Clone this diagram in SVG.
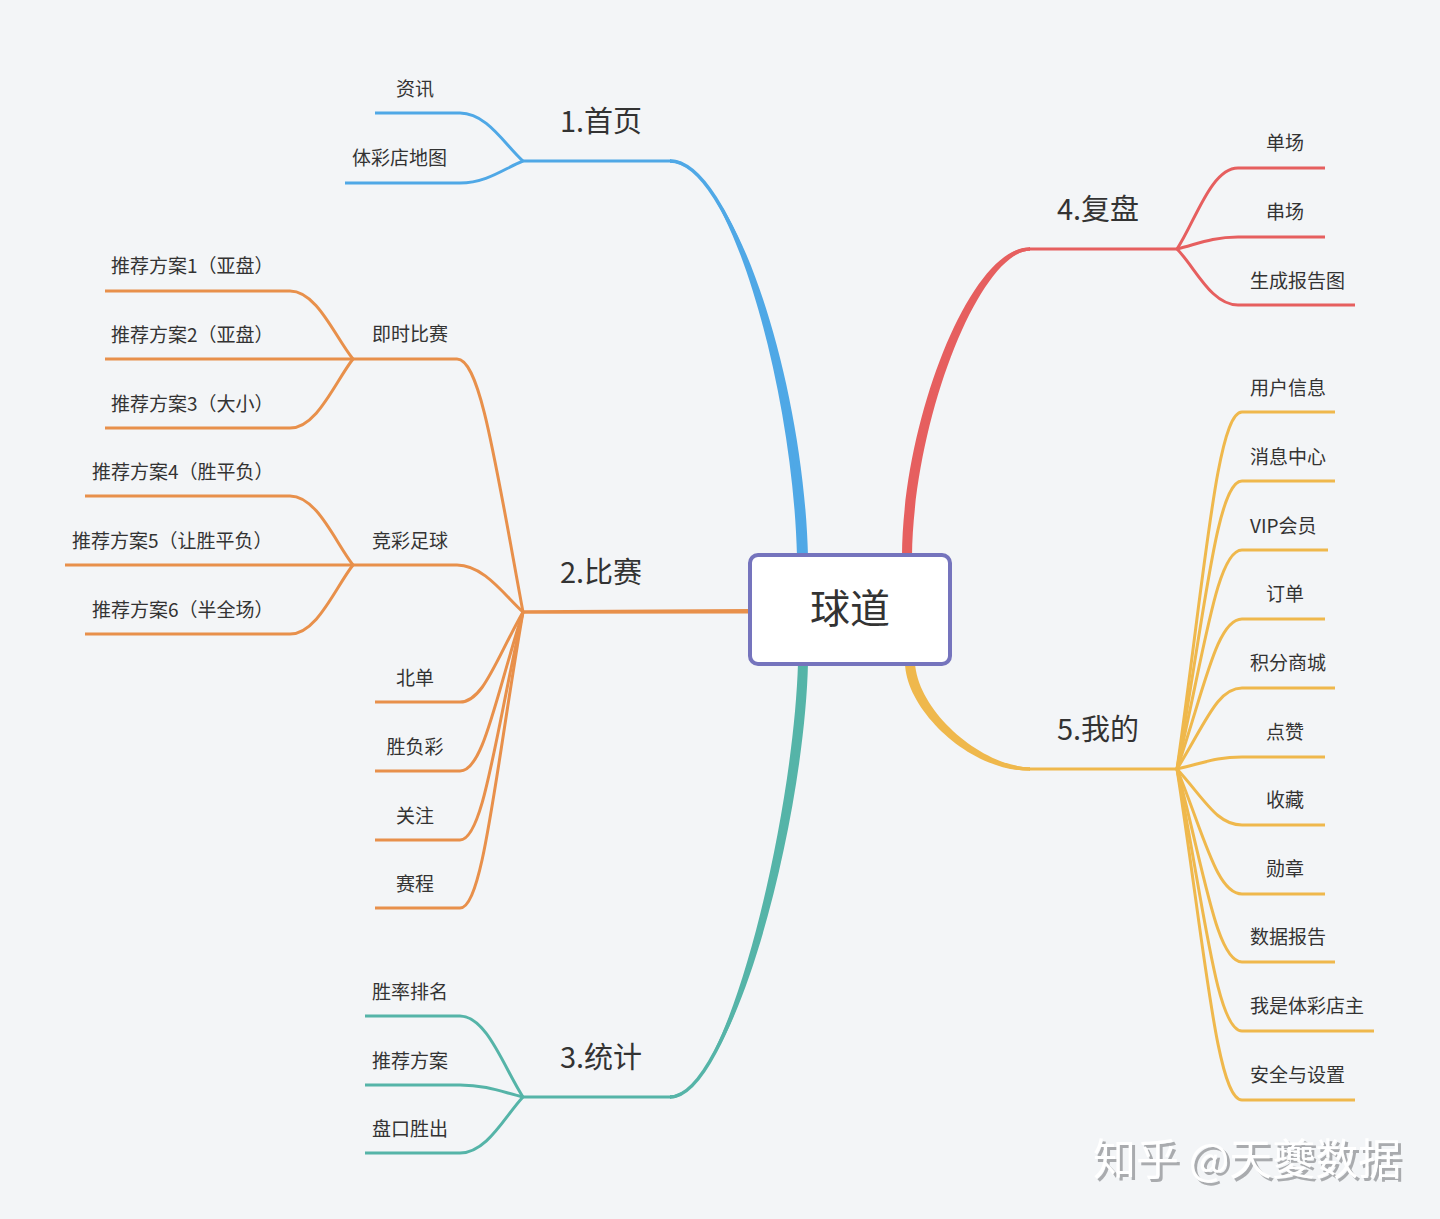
<svg xmlns="http://www.w3.org/2000/svg" width="1440" height="1219" viewBox="0 0 1440 1219">
<defs>
  <filter id="wmshadow" x="-5%" y="-20%" width="110%" height="140%">
    <feDropShadow dx="3" dy="3" stdDeviation="0.6" flood-color="#A9ABAE" flood-opacity="1"/>
  </filter>
</defs>
<style>
  .bg{fill:#F3F5F7}
  .ln{fill:none;stroke-width:3;stroke-linejoin:round}
  .mc{fill:none;stroke-width:3.6}
  .b{stroke:#4FA8E6}.bf{fill:#4FA8E6}
  .o{stroke:#E8904B}.of{fill:#E8904B}
  .t{stroke:#55B4A8}.tf{fill:#55B4A8}
  .r{stroke:#E65F5F}.rf{fill:#E65F5F}
  .y{stroke:#EFB84C}.yf{fill:#EFB84C}
  text{font-family:"Noto Sans CJK SC","Noto Sans",sans-serif;fill:#333333}
  .s{font-size:19px}
  .m{font-size:29px;text-anchor:middle}
  .c{text-anchor:middle}
  .wm{font-size:43px;font-family:"Noto Sans CJK SC",sans-serif;fill:#FFFFFF}
</style>
<rect class="bg" x="0" y="0" width="1440" height="1219"/>
<g id="connectors">
  <!-- blue -->
  <path class="bf" d="M 797 556 C 792.5 380 726 157.5 670 159.5 L 670 162.5 C 734 164.5 803.5 380 808 556 Z"/>
  <path class="mc b" d="M 802.5 556 C 798 380 730 161 670 161"/>
  <path class="ln b" d="M 523 161 L 671 161"/>
  <path class="ln b" d="M 375 113 L 460 113 C 487 113 505 145 523 161"/>
  <path class="ln b" d="M 345 183 L 460 183 C 487 183 505 168 523 161"/>
  <!-- orange -->
  <path class="of" d="M 523 610.3 L 750 609 L 750 613.5 L 523 613.7 Z"/>
  <path class="ln o" d="M 353 359 L 457 359 C 480 359 495 460 523 612"/>
  <path class="ln o" d="M 105 291 L 290 291 C 317 291 335 337 353 359"/>
  <path class="ln o" d="M 105 359 L 353 359"/>
  <path class="ln o" d="M 105 428 L 290 428 C 317 428 335 382 353 359"/>
  <path class="ln o" d="M 353 565 L 457 565 C 484 565 505 596 523 612"/>
  <path class="ln o" d="M 85 496 L 290 496 C 317 496 335 542 353 565"/>
  <path class="ln o" d="M 65 565 L 353 565"/>
  <path class="ln o" d="M 85 634 L 290 634 C 317 634 335 588 353 565"/>
  <path class="ln o" d="M 375 702 L 460 702 C 483 702 495 661.5 523 612"/>
  <path class="ln o" d="M 375 771 L 460 771 C 483 771 495 699.5 523 612"/>
  <path class="ln o" d="M 375 840 L 460 840 C 483 840 495 737.4 523 612"/>
  <path class="ln o" d="M 375 908 L 460 908 C 483 908 495 774.8 523 612"/>
  <!-- teal -->
  <path class="tf" d="M 798 663 C 793.5 820 726 1100.5 670 1098.5 L 670 1095.5 C 734 1093.5 804.5 820 808 663 Z"/>
  <path class="mc t" d="M 803 663 C 799 820 730 1097 670 1097"/>
  <path class="ln t" d="M 523 1097 L 671 1097"/>
  <path class="ln t" d="M 365 1016 L 460 1016 C 487 1016 505 1070 523 1097"/>
  <path class="ln t" d="M 365 1085 L 460 1085 C 487 1085 505 1093 523 1097"/>
  <path class="ln t" d="M 365 1153 L 460 1153 C 487 1153 505 1116 523 1097"/>
  <!-- red -->
  <path class="rf" d="M 902 556 C 902.5 420 971 245.5 1030 247.5 L 1030 250.5 C 979 252.5 913.5 420 912 556 Z"/>
  <path class="mc r" d="M 907 556 C 908 420 975 249 1030 249"/>
  <path class="ln r" d="M 1029 249 L 1177 249"/>
  <path class="ln r" d="M 1325 168 L 1238 168 C 1211 168 1195 222 1177 249"/>
  <path class="ln r" d="M 1325 237 L 1238 237 C 1211 237 1195 245 1177 249"/>
  <path class="ln r" d="M 1355 305 L 1238 305 C 1211 305 1195 267 1177 249"/>
  <!-- yellow -->
  <path class="yf" d="M 905 663 C 906 711 972 772.5 1030 770.5 L 1030 767.5 C 980 765.5 918 711 915 663 Z"/>
  <path class="mc y" d="M 910 663 C 912 711 976 769 1030 769"/>
  <path class="ln y" d="M 1029 769 L 1177 769"/>
  <path class="ln y" d="M 1335 412 L 1242 412 C 1217 412 1205 572.6 1177 769"/>
  <path class="ln y" d="M 1335 481 L 1242 481 C 1217 481 1205 610.6 1177 769"/>
  <path class="ln y" d="M 1328 550 L 1242 550 C 1217 550 1205 648.5 1177 769"/>
  <path class="ln y" d="M 1325 619 L 1242 619 C 1217 619 1205 686.5 1177 769"/>
  <path class="ln y" d="M 1335 688 L 1242 688 C 1217 688 1205 724.4 1177 769"/>
  <path class="ln y" d="M 1325 757 L 1242 757 C 1217 757 1205 762.4 1177 769"/>
  <path class="ln y" d="M 1325 825 L 1242 825 C 1217 825 1205 799.8 1177 769"/>
  <path class="ln y" d="M 1325 894 L 1242 894 C 1217 894 1205 837.8 1177 769"/>
  <path class="ln y" d="M 1335 962 L 1242 962 C 1217 962 1205 875 1177 769"/>
  <path class="ln y" d="M 1374 1031 L 1242 1031 C 1217 1031 1205 913 1177 769"/>
  <path class="ln y" d="M 1355 1100 L 1242 1100 C 1217 1100 1205 951 1177 769"/>
</g>
<g id="root">
  <rect x="750" y="555" width="200" height="109" rx="8" fill="#FFFFFF" stroke="#7574BD" stroke-width="4"/>
  <text x="850" y="623" font-size="40" text-anchor="middle">球道</text>
</g>
<g id="n1"><text class="m" x="601" y="132">1.首页</text></g>
<g id="n1-1"><text class="s c" x="415" y="96">资讯</text></g>
<g id="n1-2"><text class="s" x="352" y="165">体彩店地图</text></g>
<g id="n2"><text class="m" x="601" y="583">2.比赛</text></g>
<g id="n2-1"><text class="s c" x="410" y="341">即时比赛</text></g>
<g id="n2-1-1"><text class="s" x="111" y="273">推荐方案1（亚盘）</text></g>
<g id="n2-1-2"><text class="s" x="111" y="342">推荐方案2（亚盘）</text></g>
<g id="n2-1-3"><text class="s" x="111" y="411">推荐方案3（大小）</text></g>
<g id="n2-2"><text class="s c" x="410" y="548">竞彩足球</text></g>
<g id="n2-2-1"><text class="s" x="92" y="479">推荐方案4（胜平负）</text></g>
<g id="n2-2-2"><text class="s" x="72" y="548">推荐方案5（让胜平负）</text></g>
<g id="n2-2-3"><text class="s" x="92" y="617">推荐方案6（半全场）</text></g>
<g id="n2-3"><text class="s c" x="415" y="685">北单</text></g>
<g id="n2-4"><text class="s c" x="415" y="754">胜负彩</text></g>
<g id="n2-5"><text class="s c" x="415" y="823">关注</text></g>
<g id="n2-6"><text class="s c" x="415" y="891">赛程</text></g>
<g id="n3"><text class="m" x="601" y="1068">3.统计</text></g>
<g id="n3-1"><text class="s" x="372" y="999">胜率排名</text></g>
<g id="n3-2"><text class="s" x="372" y="1068">推荐方案</text></g>
<g id="n3-3"><text class="s" x="372" y="1136">盘口胜出</text></g>
<g id="n4"><text class="m" x="1098" y="220">4.复盘</text></g>
<g id="n4-1"><text class="s c" x="1285" y="150">单场</text></g>
<g id="n4-2"><text class="s c" x="1285" y="219">串场</text></g>
<g id="n4-3"><text class="s" x="1250" y="288">生成报告图</text></g>
<g id="n5"><text class="m" x="1098" y="740">5.我的</text></g>
<g id="n5-1"><text class="s" x="1250" y="395">用户信息</text></g>
<g id="n5-2"><text class="s" x="1250" y="464">消息中心</text></g>
<g id="n5-3"><text class="s" x="1250" y="533">VIP会员</text></g>
<g id="n5-4"><text class="s c" x="1285" y="601">订单</text></g>
<g id="n5-5"><text class="s" x="1250" y="670">积分商城</text></g>
<g id="n5-6"><text class="s c" x="1285" y="739">点赞</text></g>
<g id="n5-7"><text class="s c" x="1285" y="807">收藏</text></g>
<g id="n5-8"><text class="s c" x="1285" y="876">勋章</text></g>
<g id="n5-9"><text class="s" x="1250" y="944">数据报告</text></g>
<g id="n5-10"><text class="s" x="1250" y="1013">我是体彩店主</text></g>
<g id="n5-11"><text class="s" x="1250" y="1082">安全与设置</text></g>
<g id="watermark">
  <text class="wm" x="1093" y="1175" filter="url(#wmshadow)">知乎 @天夔数据</text>
</g>
</svg>
